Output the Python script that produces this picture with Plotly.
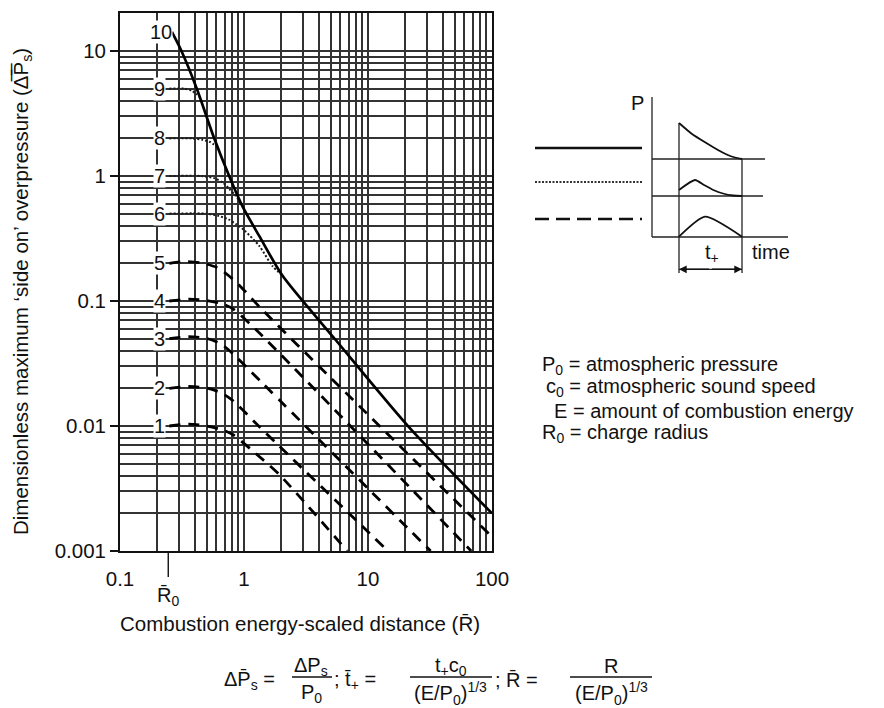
import numpy as np
import plotly.graph_objects as go

W, H = 884, 708
FONT = "Liberation Sans, Arial, Helvetica, sans-serif"

# ---------------- data ----------------
R0 = 0.245  # charge radius marker on the R-axis

# solid envelope (strength 10)
c10_R = [0.262, 0.313, 0.417, 0.57, 0.762, 0.975, 1.33, 2.04, 5.47, 21.2, 100]
c10_P = [14.2, 10, 4.97, 2.05, 0.99, 0.568, 0.33, 0.16, 0.049, 0.0099, 0.002]

# dotted curves (strengths 6-9)
c9_R = [0.25, 0.33, 0.38, 0.41, 0.438]
c9_P = [5.0, 5.0, 4.8, 4.55, 4.3]
c8_R = [0.25, 0.38, 0.46, 0.527, 0.57, 0.615]
c8_P = [2.0, 2.0, 1.95, 1.88, 1.79, 1.69]
c7_R = [0.25, 0.45, 0.58, 0.68, 0.76, 0.85, 0.95]
c7_P = [1.0, 1.0, 0.96, 0.88, 0.79, 0.70, 0.60]
c6_R = [0.25, 0.5, 0.62, 0.75, 0.87, 1.0, 1.33, 1.7, 2.04]
c6_P = [0.5, 0.5, 0.48, 0.45, 0.41, 0.37, 0.275, 0.19, 0.16]

# dashed curves (strengths 1-5)
c5_R = [0.25, 0.34, 0.45, 0.6, 0.75, 0.916, 1.33, 2.61, 100]
c5_P = [0.2, 0.207, 0.202, 0.186, 0.16, 0.134, 0.090, 0.046, 0.0013]
c4_R = [0.25, 0.36, 0.5, 0.67, 0.81, 1.27, 68]
c4_P = [0.1, 0.1035, 0.101, 0.095, 0.087, 0.058, 0.001]
c3_R = [0.25, 0.36, 0.5, 0.65, 0.81, 1.33, 32]
c3_P = [0.05, 0.0518, 0.0502, 0.0455, 0.038, 0.0233, 0.001]
c2_R = [0.25, 0.36, 0.5, 0.65, 0.78, 0.916, 1.33, 14.5]
c2_P = [0.02, 0.0207, 0.0201, 0.0185, 0.0165, 0.0143, 0.00987, 0.001]
c1_R = [0.25, 0.36, 0.5, 0.65, 0.805, 1.25, 1.92, 6.8]
c1_P = [0.01, 0.01035, 0.01, 0.0094, 0.0086, 0.0060, 0.0041, 0.001]

curve_labels = ["1", "2", "3", "4", "5", "6", "7", "8", "9", "10"]
label_P = [0.01, 0.02, 0.05, 0.1, 0.2, 0.5, 1, 2, 5, 14.2]
label_R = [0.2075] * 9 + [0.216]

x_tick_vals = [0.1, 1, 10, 100]
x_tick_text = ["0.1", "1", "10", "100"]
y_tick_vals = [0.001, 0.01, 0.1, 1, 10]
y_tick_text = ["0.001", "0.01", "0.1", "1", "10"]
minor_mult = [2, 3, 4, 5, 6, 7, 8, 9]

# schematic inset (arbitrary time / pressure units)
leg_x = [5, 112]
leg_y_solid, leg_y_dot, leg_y_dash = 132, 98, 61
p_axis_x, p_axis_y = [122, 122], [183, 43]
base1_x, base1_y = [122, 235], [121, 121]
base2_x, base2_y = [122, 233], [84, 84]
base3_x, base3_y = [122, 258], [43, 43]
tstart_x, tstart_y = [149, 149], [157, 7]
tend_x, tend_y = [212, 212], [121, 7]
pulse1_t = [149, 162, 176.7, 188, 196.7, 205, 212]
pulse1_p = [157, 146, 136.7, 130, 125.5, 122.5, 121]
pulse2_t = [149, 165, 174, 183.3, 193, 203.3, 212]
pulse2_p = [90, 100, 95, 90, 86.5, 84.5, 84]
pulse3_t = [149, 175, 212]
pulse3_p = [43.3, 63.3, 43.3]
arrow_t = [149, 212]
arrow_y = 10.7

# ---------------- figure ----------------
def px(xp):
    return xp / W

def py(yp):
    return 1 - yp / H

fig = go.Figure()

solid = dict(color="#000", width=2.7, shape="spline", smoothing=0.7)
dotted = dict(color="#1a1a1a", width=2.0, dash="2px,2px", shape="spline", smoothing=0.7)
dashed = dict(color="#000", width=2.8, dash="11px,8px", shape="spline", smoothing=0.7)

for R, P in [(c1_R, c1_P), (c2_R, c2_P), (c3_R, c3_P), (c4_R, c4_P), (c5_R, c5_P)]:
    fig.add_trace(go.Scatter(x=R, y=P, mode="lines", line=dashed, hoverinfo="skip"))
for R, P in [(c6_R, c6_P), (c7_R, c7_P), (c8_R, c8_P), (c9_R, c9_P)]:
    fig.add_trace(go.Scatter(x=R, y=P, mode="lines", line=dotted, hoverinfo="skip"))
fig.add_trace(go.Scatter(x=c10_R, y=c10_P, mode="lines", line=solid, hoverinfo="skip"))

# inset traces
ins = dict(xaxis="x2", yaxis="y2", mode="lines", hoverinfo="skip")
fig.add_trace(go.Scatter(x=leg_x, y=[leg_y_solid] * 2, line=dict(color="#111", width=2.6), **ins))
fig.add_trace(go.Scatter(x=leg_x, y=[leg_y_dot] * 2, line=dict(color="#333", width=2, dash="2px,1.5px"), **ins))
fig.add_trace(go.Scatter(x=leg_x, y=[leg_y_dash] * 2, line=dict(color="#111", width=2.6, dash="14px,7px"), **ins))
thin = dict(color="#222", width=1.3)
for xs, ys in [(p_axis_x, p_axis_y), (base1_x, base1_y), (base2_x, base2_y), (base3_x, base3_y),
               (tstart_x, tstart_y), (tend_x, tend_y)]:
    fig.add_trace(go.Scatter(x=xs, y=ys, line=thin, **ins))
for xs, ys in [(pulse1_t, pulse1_p), (pulse2_t, pulse2_p), (pulse3_t, pulse3_p)]:
    fig.add_trace(go.Scatter(x=xs, y=ys, line=dict(color="#111", width=1.8, shape="spline",
                                                     smoothing=0.6), **ins))
fig.add_trace(go.Scatter(x=arrow_t, y=[arrow_y] * 2, line=thin, **ins))

annotations = []
# curve labels
for t, r, p in zip(curve_labels, label_R, label_P):
    annotations.append(dict(x=np.log10(r), y=np.log10(p), xref="x", yref="y", text=t,
                            showarrow=False, bgcolor="white", borderpad=0,
                            font=dict(size=20, family=FONT, color="#111")))
# arrows for t+
mid = (arrow_t[0] + arrow_t[1]) / 2
for tip in arrow_t:
    annotations.append(dict(x=tip, y=arrow_y, ax=mid, ay=arrow_y, xref="x2", yref="y2",
                            axref="x2", ayref="y2", showarrow=True, arrowhead=2,
                            arrowsize=1.1, arrowwidth=1.4, arrowcolor="#111", text=""))

def txt(x, y, s, size=20.5, xanchor="center", **kw):
    d = dict(x=x, y=y, xref="paper", yref="paper", text=s, showarrow=False,
             xanchor=xanchor, yanchor="middle", font=dict(size=size, family=FONT, color="#111"))
    d.update(kw)
    return d

# axis titles
annotations.append(txt(px(22), py(292),
                       "Dimensionless maximum ‘side on’ overpressure (\u0394\u0305P\u0305<sub>s</sub>)",
                       textangle=-90))
annotations.append(txt(px(300), py(623), "Combustion energy-scaled distance (R\u0304)"))
annotations.append(dict(x=np.log10(R0), y=py(596), xref="x", yref="paper", text="R\u0304<sub>0</sub>",
                        showarrow=False, xanchor="center", yanchor="middle",
                        font=dict(size=20, family=FONT, color="#111")))

# inset texts
for x, y, s in [(107, 177, "P"), (182, 27, "t<sub>+</sub>"), (241, 28, "time")]:
    annotations.append(dict(x=x, y=y, xref="x2", yref="y2", text=s, showarrow=False,
                            font=dict(size=20, family=FONT, color="#111")))

# symbol definitions
for x, y, s in [(540, 365, "P<sub>0</sub> = atmospheric pressure"),
                (544, 388, "c<sub>0</sub> = atmospheric sound speed"),
                (552, 411, "E = amount of combustion energy"),
                (540, 434, "R<sub>0</sub> = charge radius")]:
    annotations.append(txt(px(x), py(y), s, size=20, xanchor="left"))

# formula line
annotations.append(txt(px(222), py(680), "\u0394P\u0304<sub>s</sub> =", size=20, xanchor="left"))
annotations.append(txt(px(311), py(666), "\u0394P<sub>s</sub>", size=20))
annotations.append(txt(px(311), py(693), "P<sub>0</sub>", size=20))
annotations.append(txt(px(332), py(680), "; t\u0304<sub>+</sub> =", size=20, xanchor="left"))
annotations.append(txt(px(451), py(666), "t<sub>+</sub>c<sub>0</sub>", size=20))
annotations.append(txt(px(451), py(693), "(E/P<sub>0</sub>)<sup>1/3</sup>", size=20))
annotations.append(txt(px(493), py(680), "; R\u0304 =", size=20, xanchor="left"))
annotations.append(txt(px(611), py(666), "R", size=20))
annotations.append(txt(px(611), py(693), "(E/P<sub>0</sub>)<sup>1/3</sup>", size=20))

shapes = []
for x0, x1 in [(292, 332), (410, 492), (570, 652)]:
    shapes.append(dict(type="line", xref="paper", yref="paper", x0=px(x0), x1=px(x1),
                       y0=py(677), y1=py(677), line=dict(color="#111", width=1.3)))
# R0 tick below the axis
shapes.append(dict(type="line", xref="x", yref="paper", x0=R0, x1=R0, y0=py(551), y1=py(577),
                   line=dict(color="#111", width=1.4)))

gridc = "#333333"
gw = 1.5
x_minor = [m * 10.0 ** e for e in range(-1, 2) for m in minor_mult]
y_minor = [m * 10.0 ** e for e in range(-3, 2) for m in minor_mult if m * 10.0 ** e <= 20]

fig.update_layout(
    width=W, height=H,
    margin=dict(l=0, r=0, t=0, b=0),
    paper_bgcolor="white", plot_bgcolor="white",
    showlegend=False,
    font=dict(family=FONT, size=20, color="#111"),
    xaxis=dict(type="log", range=[-1, 2], domain=[px(120), px(492)],
               tickmode="array", tickvals=x_tick_vals, ticktext=x_tick_text,
               ticks="", ticklabelstandoff=8, tickfont=dict(size=20.5),
               showgrid=True, gridcolor=gridc, gridwidth=gw,
               minor=dict(tickmode="array", tickvals=x_minor, showgrid=True,
                          gridcolor=gridc, gridwidth=gw, ticks=""),
               showline=True, mirror=True, linecolor="#111", linewidth=1.8,
               zeroline=False, automargin=False, fixedrange=True),
    yaxis=dict(type="log", range=[-3, np.log10(20)], domain=[py(551), py(13.4)],
               tickmode="array", tickvals=y_tick_vals, ticktext=y_tick_text,
               ticks="outside", ticklen=8, tickwidth=1.6, tickcolor="#111",
               tickfont=dict(size=20.5),
               showgrid=True, gridcolor=gridc, gridwidth=gw,
               minor=dict(tickmode="array", tickvals=y_minor, showgrid=True,
                          gridcolor=gridc, gridwidth=gw, ticks=""),
               showline=True, mirror=True, linecolor="#111", linewidth=1.8,
               zeroline=False, automargin=False, fixedrange=True),
    xaxis2=dict(domain=[px(530), px(800)], range=[0, 270], visible=False, fixedrange=True,
                anchor="y2"),
    yaxis2=dict(domain=[py(280), py(90)], range=[0, 190], visible=False, fixedrange=True,
                anchor="x2"),
    annotations=annotations,
    shapes=shapes,
)

fig.write_html("out.html")
